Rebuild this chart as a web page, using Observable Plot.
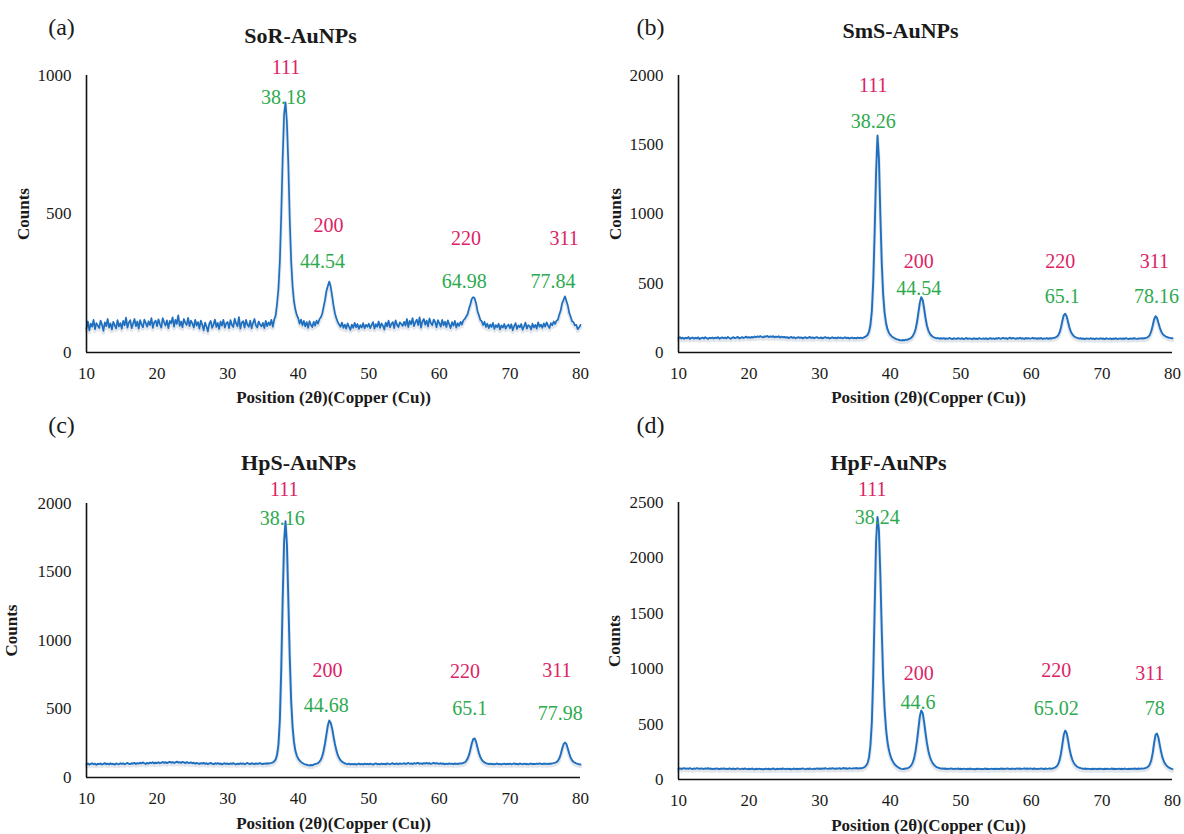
<!DOCTYPE html>
<html>
<head>
<meta charset="utf-8">
<script src="https://cdn.jsdelivr.net/npm/d3@7"></script>
<script src="https://cdn.jsdelivr.net/npm/@observablehq/plot@0.6"></script>
<style>
  html, body { margin: 0; padding: 0; background: #fff; }
  #wrap { position: relative; width: 1184px; height: 834px; overflow: hidden; background: #fff; }
  .panel { position: absolute; }
  #wrap svg, #wrap svg text { font-family: "Liberation Serif", "Times New Roman", serif !important; }
</style>
</head>
<body>
<div id="wrap"></div>
<script>
// ---- shared axis data ----
const x0 = 10, xStep = 0.2;            // instrument scan grid: 10°..80° every 0.2°
const xTicks = [10, 20, 30, 40, 50, 60, 70, 80];
const hkl = ["111", "200", "220", "311"];

// ---- (a) SoR-AuNPs ----
const sorCounts = [
  86,112,80,104,93,118,84,106,97,88,115,100,78,109,95,121,90,105,83,111,98,87,117,94,106,
  86,114,98,126,90,108,117,88,104,121,95,112,86,117,101,91,119,106,93,113,99,124,89,109,115,
  95,120,102,90,124,109,97,116,88,114,105,127,93,118,103,134,96,112,91,121,107,99,125,95,115,
  105,90,118,97,110,86,115,100,80,108,94,76,104,114,89,101,119,92,107,85,112,97,118,90,106,
  110,88,117,99,92,122,104,94,128,86,108,113,90,118,100,93,115,87,107,121,98,90,112,101,94,
  107,88,114,95,109,99,118,93,119,133,175,230,330,500,700,860,903,830,680,480,330,240,185,155,135,
  124,104,119,98,114,94,110,89,113,99,92,111,97,115,104,120,127,140,165,190,222,240,256,238,205,
  170,142,124,110,101,93,108,89,101,86,105,93,82,101,89,107,91,103,85,99,90,106,87,100,93,
  104,88,99,110,86,102,93,112,89,105,97,83,108,94,115,91,103,110,88,116,99,92,109,103,96,
  111,97,121,92,114,102,124,95,109,119,99,127,90,112,121,100,115,94,123,106,98,119,110,91,117,
  105,93,118,98,111,92,116,101,88,110,97,114,90,106,96,111,101,116,121,130,138,158,174,194,200,
  196,178,150,135,118,113,99,111,92,104,88,101,92,107,85,99,91,104,83,98,90,103,86,96,101,
  88,102,80,95,106,85,98,91,103,82,94,108,86,99,95,83,104,90,100,86,109,93,101,89,105,
  93,109,97,88,106,98,112,103,115,118,137,152,178,190,203,186,170,143,130,113,110,98,100,84,90,
  100
];
const sorYTicks = [0, 500, 1000];
const sorPeakText = ["38.18", "44.54", "64.98", "77.84"];
const sorHklX = [38.27, 44.29, 63.79, 77.68];
const sorHklY = [1030, 458, 412, 412];
const sorPeakX = [37.92, 43.44, 63.52, 76.12];
const sorPeakY = [922, 329, 257, 257];

// ---- (b) SmS-AuNPs ----
const smsCounts = [
  104,110,101,107,99,106,103,111,98,105,108,100,106,102,109,97,104,107,101,110,103,99,106,104,108,
  101,107,104,111,100,106,109,103,108,102,112,105,99,107,110,104,108,113,102,106,111,105,109,114,107,
  111,106,113,108,115,110,116,112,118,113,109,117,114,120,111,116,113,118,110,115,112,117,108,114,110,
  113,107,111,104,109,112,106,110,103,108,111,105,109,102,107,110,104,108,112,105,109,103,107,111,106,
  104,109,102,107,111,105,108,101,106,110,104,107,102,109,105,108,103,106,110,104,107,101,105,108,103,
  106,102,108,104,107,103,108,112,118,128,150,200,300,520,880,1300,1567,1400,1000,650,420,290,215,170,145,
  128,118,110,104,99,95,92,89,87,90,88,93,91,96,100,108,120,140,170,220,290,360,400,380,320,
  250,195,160,138,124,115,110,106,102,105,99,103,100,104,98,102,99,105,101,97,103,100,98,104,101,
  99,103,97,101,105,98,102,100,96,103,99,101,97,104,100,98,102,99,103,97,101,104,99,102,98,
  103,100,105,99,102,106,101,104,98,103,107,100,105,102,99,104,101,106,100,103,98,105,101,104,100,
  102,106,100,104,99,103,101,105,98,102,100,104,99,103,101,104,106,108,114,124,145,180,230,270,280,
  262,220,180,150,132,120,112,107,104,100,103,99,101,97,102,100,98,103,99,101,97,102,100,98,103,
  99,101,97,103,100,98,102,96,101,99,103,97,100,102,98,101,99,104,100,97,102,99,101,103,100,
  98,102,100,104,101,103,105,108,115,128,155,195,240,262,250,215,180,152,135,124,117,112,108,106,104,
  103
];
const smsYTicks = [0, 500, 1000, 1500, 2000];
const smsPeakText = ["38.26", "44.54", "65.1", "78.16"];
const smsHklX = [37.61, 44.04, 64.10, 77.43];
const smsHklY = [1928, 657, 657, 657];
const smsPeakX = [37.61, 44.04, 64.37, 77.75];
const smsPeakY = [1670, 460, 404, 404];

// ---- (c) HpS-AuNPs ----
const hpsCounts = [
  96,102,94,99,104,97,101,93,100,98,103,95,99,105,97,101,96,103,98,100,94,102,99,97,104,
  99,103,97,101,106,100,98,104,102,107,99,105,101,108,103,110,104,99,107,102,109,105,111,103,108,
  106,111,104,109,113,107,112,105,110,115,108,113,106,111,116,109,112,107,114,110,105,112,108,106,110,
  104,108,101,106,103,99,105,102,107,100,104,98,103,106,101,97,104,100,105,99,102,96,101,104,99,
  102,97,103,99,105,100,96,102,98,104,99,103,97,101,106,100,98,104,101,97,103,99,102,105,100,
  98,103,100,104,101,105,107,110,118,132,165,240,420,800,1300,1720,1870,1700,1300,880,560,370,260,195,160,
  138,124,114,106,100,96,93,90,88,91,89,95,98,101,105,115,130,155,195,250,315,380,416,400,360,
  300,245,200,165,142,126,116,109,104,100,97,101,95,99,96,100,94,98,102,96,99,95,101,97,100,
  96,101,98,94,100,103,97,99,95,102,98,100,96,103,99,97,101,104,98,100,102,97,103,99,101,
  104,99,102,106,100,103,98,105,101,104,107,100,103,99,105,102,106,101,104,100,103,107,101,105,102,
  100,104,99,102,97,101,98,103,99,101,97,102,100,98,103,101,104,106,110,120,138,165,205,250,280,
  285,262,220,180,150,130,118,110,105,101,98,102,97,100,96,99,102,97,100,95,99,101,97,100,98,
  101,97,99,103,98,100,96,102,99,97,101,98,100,96,99,102,97,100,98,101,99,103,100,98,102,
  99,101,98,102,100,103,105,108,112,122,140,170,210,243,255,245,212,175,145,126,115,108,103,100,97,
  95
];
const hpsYTicks = [0, 500, 1000, 1500, 2000];
const hpsPeakText = ["38.16", "44.68", "65.1", "77.98"];
const hpsHklX = [38.01, 44.15, 63.65, 76.66];
const hpsHklY = [2102, 781, 774, 781];
const hpsPeakX = [37.75, 43.98, 64.30, 77.14];
const hpsPeakY = [1888, 526, 506, 465];

// ---- (d) HpF-AuNPs ----
const hpfCounts = [
  97,101,95,99,103,97,100,96,102,98,94,100,97,103,99,96,101,98,95,100,97,102,96,99,94,
  98,95,100,97,93,99,96,101,95,98,94,100,97,95,99,93,97,100,96,94,98,95,99,96,93,
  97,94,99,95,92,97,94,98,93,96,91,95,98,94,97,92,96,99,95,93,97,94,98,95,99,
  96,93,98,94,97,92,96,99,94,97,93,98,95,100,96,93,98,95,99,96,94,98,95,100,97,
  99,95,100,97,102,98,96,101,97,103,99,96,101,98,102,97,100,104,99,101,97,103,100,98,102,
  100,104,99,102,101,104,108,114,128,150,200,310,520,950,1550,2150,2370,2250,1850,1350,920,640,460,345,270,
  220,185,160,140,126,115,107,100,96,94,97,99,100,106,115,130,155,195,260,350,460,570,623,600,520,
  420,330,260,210,175,150,133,120,112,106,102,98,101,97,99,95,98,96,100,97,94,98,96,99,95,
  97,94,98,96,93,97,95,99,94,96,92,97,95,98,93,96,94,99,95,97,93,96,98,94,97,
  95,98,94,97,99,95,98,96,100,97,94,99,96,98,95,100,97,99,96,98,101,97,99,96,100,
  98,95,99,97,94,98,96,100,97,95,99,96,98,101,97,100,104,110,120,140,175,235,320,405,442,
  420,355,280,220,180,152,133,120,112,106,102,99,96,99,95,98,96,93,97,95,98,94,97,95,98,
  96,93,97,95,98,94,96,99,95,97,93,96,98,95,97,94,99,96,93,97,95,98,96,99,97,
  95,99,96,100,98,101,104,110,120,140,175,240,330,405,415,380,310,245,195,160,138,122,112,104,98,
  94
];
const hpfYTicks = [0, 500, 1000, 1500, 2000, 2500];
const hpfPeakText = ["38.24", "44.6", "65.02", "78"];
const hpfHklX = [37.45, 44.04, 63.52, 76.79];
const hpfHklY = [2617, 954, 984, 954];
const hpfPeakX = [38.15, 43.93, 63.52, 77.48];
const hpfPeakY = [2367, 698, 638, 638];

// ---- styling ----
const LINE = "#1f6fc0", PINK = "#dc2366", GREEN = "#2eaa4f", INK = "#1a1a1a";
const SERIF = "Liberation Serif, Times New Roman, serif";
const MID = {textAnchor: "middle", lineAnchor: "middle"};

function toRows(counts) {
  return counts.map((c, i) => ({theta: x0 + i * xStep, counts: c}));
}

function panel(cfg) {
  const rows = toRows(cfg.counts);
  const hklRows = hkl.map((t, i) => ({t, x: cfg.hklX[i], y: cfg.hklY[i]}));
  const valRows = cfg.peakText.map((t, i) => ({t, x: cfg.peakX[i], y: cfg.peakY[i]}));
  return Plot.plot({
    width: 592, height: 417,
    marginLeft: 86, marginRight: 12, marginTop: cfg.mt, marginBottom: cfg.mb,
    style: {fontFamily: SERIF, fontSize: "17px", color: INK, background: "white", overflow: "visible"},
    x: {domain: [10, 80], ticks: xTicks, tickFormat: d3.format("d"), tickSize: 0, tickPadding: 14, label: null},
    y: {domain: [0, cfg.yMax], ticks: cfg.yTicks, tickFormat: d3.format("d"), tickSize: 0, tickPadding: 15, label: null},
    marks: [
      Plot.lineY(rows, {x: "theta", y: "counts", stroke: "#7a8ea6", strokeOpacity: 0.22, strokeWidth: 3.5, dy: 2}),
      Plot.lineY(rows, {x: "theta", y: "counts", stroke: LINE, strokeWidth: cfg.sw}),
      Plot.ruleX([10], {stroke: "#111", strokeWidth: 1.6}),
      Plot.ruleY([0], {stroke: "#111", strokeWidth: 1.6}),
      Plot.text(hklRows, {x: "x", y: "y", text: "t", fill: PINK, fontSize: 20, ...MID}),
      Plot.text(valRows, {x: "x", y: "y", text: "t", fill: GREEN, fontSize: 20, ...MID}),
      Plot.text([cfg.title], {frameAnchor: "top", dx: cfg.tdx, dy: cfg.tdy, fontWeight: "bold", fontSize: 22, fill: INK, ...MID}),
      Plot.text([cfg.letter], {frameAnchor: "top-left", dx: cfg.ldx, dy: cfg.ldy, fontSize: 24, fill: INK, ...MID}),
      Plot.text(["Counts"], {frameAnchor: "left", rotate: -90, dx: cfg.cdx, dy: cfg.cdy, fontWeight: "bold", fontSize: 17, fill: INK, ...MID}),
      Plot.text(["Position (2θ)(Copper (Cu))"], {frameAnchor: "bottom", dx: cfg.xldx, dy: cfg.xldy, fontWeight: "bold", fontSize: 17, fill: INK, ...MID})
    ]
  });
}

const panels = [
  {left: 0, top: 0, counts: sorCounts, yMax: 1000, yTicks: sorYTicks, title: "SoR-AuNPs", letter: "(a)", sw: 1.7,
   hklX: sorHklX, hklY: sorHklY, peakText: sorPeakText, peakX: sorPeakX, peakY: sorPeakY,
   mt: 75, mb: 65, tdx: -33, tdy: -40, ldx: -25, ldy: -48, cdx: -63, cdy: 0, xldx: 0, xldy: 45},
  {left: 592, top: 0, counts: smsCounts, yMax: 2000, yTicks: smsYTicks, title: "SmS-AuNPs", letter: "(b)", sw: 1.9,
   hklX: smsHklX, hklY: smsHklY, peakText: smsPeakText, peakX: smsPeakX, peakY: smsPeakY,
   mt: 75, mb: 65, tdx: -25, tdy: -45, ldx: -28, ldy: -48, cdx: -63, cdy: 0, xldx: 3, xldy: 45},
  {left: 0, top: 417, counts: hpsCounts, yMax: 2000, yTicks: hpsYTicks, title: "HpS-AuNPs", letter: "(c)", sw: 1.9,
   hklX: hpsHklX, hklY: hpsHklY, peakText: hpsPeakText, peakX: hpsPeakX, peakY: hpsPeakY,
   mt: 86, mb: 57, tdx: -35, tdy: -41, ldx: -25, ldy: -78, cdx: -75, cdy: -10, xldx: 0, xldy: 46},
  {left: 592, top: 417, counts: hpfCounts, yMax: 2500, yTicks: hpfYTicks, title: "HpF-AuNPs", letter: "(d)", sw: 1.9,
   hklX: hpfHklX, hklY: hpfHklY, peakText: hpfPeakText, peakX: hpfPeakX, peakY: hpfPeakY,
   mt: 85, mb: 55, tdx: -37, tdy: -40, ldx: -28, ldy: -77, cdx: -64, cdy: 0, xldx: 3, xldy: 46}
];

const wrap = document.getElementById("wrap");
for (const p of panels) {
  const div = document.createElement("div");
  div.className = "panel";
  div.style.left = p.left + "px";
  div.style.top = p.top + "px";
  div.appendChild(panel(p));
  wrap.appendChild(div);
}
</script>
</body>
</html>
